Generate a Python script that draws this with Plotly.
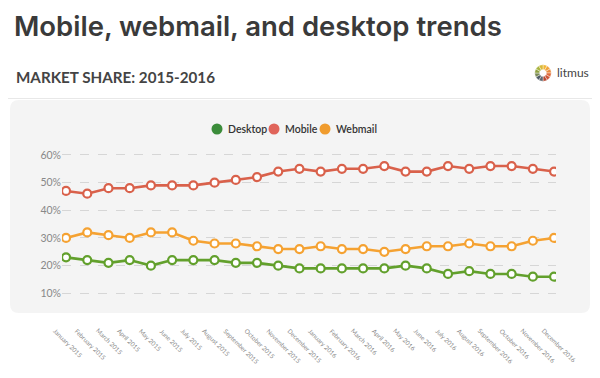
import math
import plotly.graph_objects as go

# ---------------- data ----------------
months = ["January 2015", "February 2015", "March 2015", "April 2015", "May 2015", "June 2015",
          "July 2015", "August 2015", "September 2015", "October 2015", "November 2015", "December 2015",
          "January 2016", "February 2016", "March 2016", "April 2016", "May 2016", "June 2016",
          "July 2016", "August 2016", "September 2016", "October 2016", "November 2016", "December 2016"]
desktop = [23, 22, 21, 22, 20, 22, 22, 22, 21, 21, 20, 19, 19, 19, 19, 19, 20, 19, 17, 18, 17, 17, 16, 16]
mobile = [47, 46, 48, 48, 49, 49, 49, 50, 51, 52, 54, 55, 54, 55, 55, 56, 54, 54, 56, 55, 56, 56, 55, 54]
webmail = [30, 32, 31, 30, 32, 32, 29, 28, 28, 27, 26, 26, 27, 26, 26, 25, 26, 27, 27, 28, 27, 27, 29, 30]
series_names = ["Desktop", "Mobile", "Webmail"]
y_ticks = [10, 20, 30, 40, 50, 60]
y_tick_text = [f"{v}%" for v in y_ticks]

# ---------------- style ----------------
FONT = "Lato"
line_colors = {"Desktop": "#62a02c", "Mobile": "#d9614b", "Webmail": "#f5a232"}
legend_colors = {"Desktop": "#3b8c3a", "Mobile": "#e0645a", "Webmail": "#f09c2e"}

OFF = 8  # page body margin
W_FIG, H_FIG = 600 - OFF, 378 - OFF
L, R, T, B = 62, 556, 150, 305  # plot area in page px
PW, PH = R - L, B - T


def px(xp):
    return (xp - L) / PW


def py(yp):
    return (B - yp) / PH


fig = go.Figure()
for name, vals in zip(series_names, [desktop, mobile, webmail]):
    fig.add_trace(go.Scatter(
        x=months, y=vals, name=name, mode="lines+markers",
        line=dict(color=line_colors[name], width=2.6),
        marker=dict(symbol="circle", size=8, color="white",
                    line=dict(color=line_colors[name], width=2.2)),
        showlegend=False,
    ))

shapes = []
annotations = []


def rounded_rect(x0, y0, x1, y1, r):
    return (f"M {px(x0 + r)} {py(y0)} L {px(x1 - r)} {py(y0)} Q {px(x1)} {py(y0)} {px(x1)} {py(y0 + r)} "
            f"L {px(x1)} {py(y1 - r)} Q {px(x1)} {py(y1)} {px(x1 - r)} {py(y1)} "
            f"L {px(x0 + r)} {py(y1)} Q {px(x0)} {py(y1)} {px(x0)} {py(y1 - r)} "
            f"L {px(x0)} {py(y0 + r)} Q {px(x0)} {py(y0)} {px(x0 + r)} {py(y0)} Z")


shapes.append(dict(type="path", xref="paper", yref="paper", layer="below",
                   path=rounded_rect(10, 100, 590, 313, 9),
                   fillcolor="#f4f4f4", line=dict(width=0)))
shapes.append(dict(type="line", xref="paper", yref="paper", layer="below",
                   x0=px(0), x1=px(600), y0=py(98.5), y1=py(98.5),
                   line=dict(color="#e8e8e8", width=1)))

# title + subtitle
annotations.append(dict(text="Mobile, webmail, and desktop trends", xref="paper", yref="paper",
                        x=px(13), y=py(8.4), xanchor="left", yanchor="top", showarrow=False,
                        borderpad=0,
                        font=dict(family="Inter", size=27.5, color="#3a3a3a", weight=600)))
annotations.append(dict(text="MARKET SHARE: 2015-2016", xref="paper", yref="paper",
                        x=px(14), y=py(77), xanchor="left", yanchor="middle", showarrow=False,
                        font=dict(family=FONT, size=15.2, color="#444444", weight=700)))

# logo
logo_colors = ["#f2b632", "#f0a23a", "#ea8a3e", "#e06c3c", "#cf5537", "#b64a33",
               "#5f6770", "#4f5b66", "#7b8a58", "#8fa142", "#a9b43e", "#d7b93a"]
cx, cy, ro, ri = 543, 73, 8.2, 3.4
for i, col in enumerate(logo_colors):
    a0 = math.radians(-90 + i * 30)
    a1 = math.radians(-90 + (i + 1) * 30)
    n = 6
    outer = [(cx + ro * math.cos(a0 + (a1 - a0) * k / n), cy + ro * math.sin(a0 + (a1 - a0) * k / n)) for k in range(n + 1)]
    inner = [(cx + ri * math.cos(a1 - (a1 - a0) * k / n), cy + ri * math.sin(a1 - (a1 - a0) * k / n)) for k in range(n + 1)]
    path = "M " + " L ".join(f"{px(x)} {py(y)}" for x, y in outer + inner) + " Z"
    shapes.append(dict(type="path", xref="paper", yref="paper", path=path,
                       fillcolor=col, line=dict(color="white", width=0.4)))
annotations.append(dict(text="litmus", xref="paper", yref="paper", x=px(555), y=py(73),
                        xanchor="left", yanchor="middle", showarrow=False,
                        font=dict(family=FONT, size=12, color="#444444")))

# legend (custom dots + labels)
legend_dot_x = [217, 274, 325]
for name, xd in zip(series_names, legend_dot_x):
    shapes.append(dict(type="circle", xref="paper", yref="paper",
                       x0=px(xd - 5.5), x1=px(xd + 5.5), y0=py(129 - 5.5), y1=py(129 + 5.5),
                       fillcolor=legend_colors[name], line=dict(width=0)))
    annotations.append(dict(text=name, xref="paper", yref="paper", x=px(xd + 9), y=py(129),
                            xanchor="left", yanchor="middle", showarrow=False,
                            font=dict(family=FONT, size=10.5, color="#333333", weight=600)))

# rotated x tick labels
for m in months:
    annotations.append(dict(text=m, xref="x", yref="paper", x=m, y=py(326),
                            xanchor="left", yanchor="top", xshift=-15, showarrow=False,
                            borderpad=0, textangle=45,
                            font=dict(family=FONT, size=6.3, color="#8a8a8a")))

fig.update_layout(
    width=W_FIG, height=H_FIG,
    margin=dict(l=L - OFF, r=600 - R, t=T - OFF, b=378 - B, pad=0),
    paper_bgcolor="#ffffff", plot_bgcolor="rgba(0,0,0,0)",
    font=dict(family=FONT),
    showlegend=False,
    shapes=shapes, annotations=annotations,
    xaxis=dict(type="category", range=[-0.19, 23.09], showticklabels=False, showgrid=False,
               zeroline=False, showline=False, ticks=""),
    yaxis=dict(range=[5.77, 61.8], tickvals=y_ticks, ticktext=y_tick_text, showgrid=True,
               gridcolor="#d6d6d6", griddash="dash", gridwidth=1, zeroline=False, showline=False,
               ticks="", tickfont=dict(family=FONT, size=10.5, color="#888888")),
)

fig.write_html("out.html")
